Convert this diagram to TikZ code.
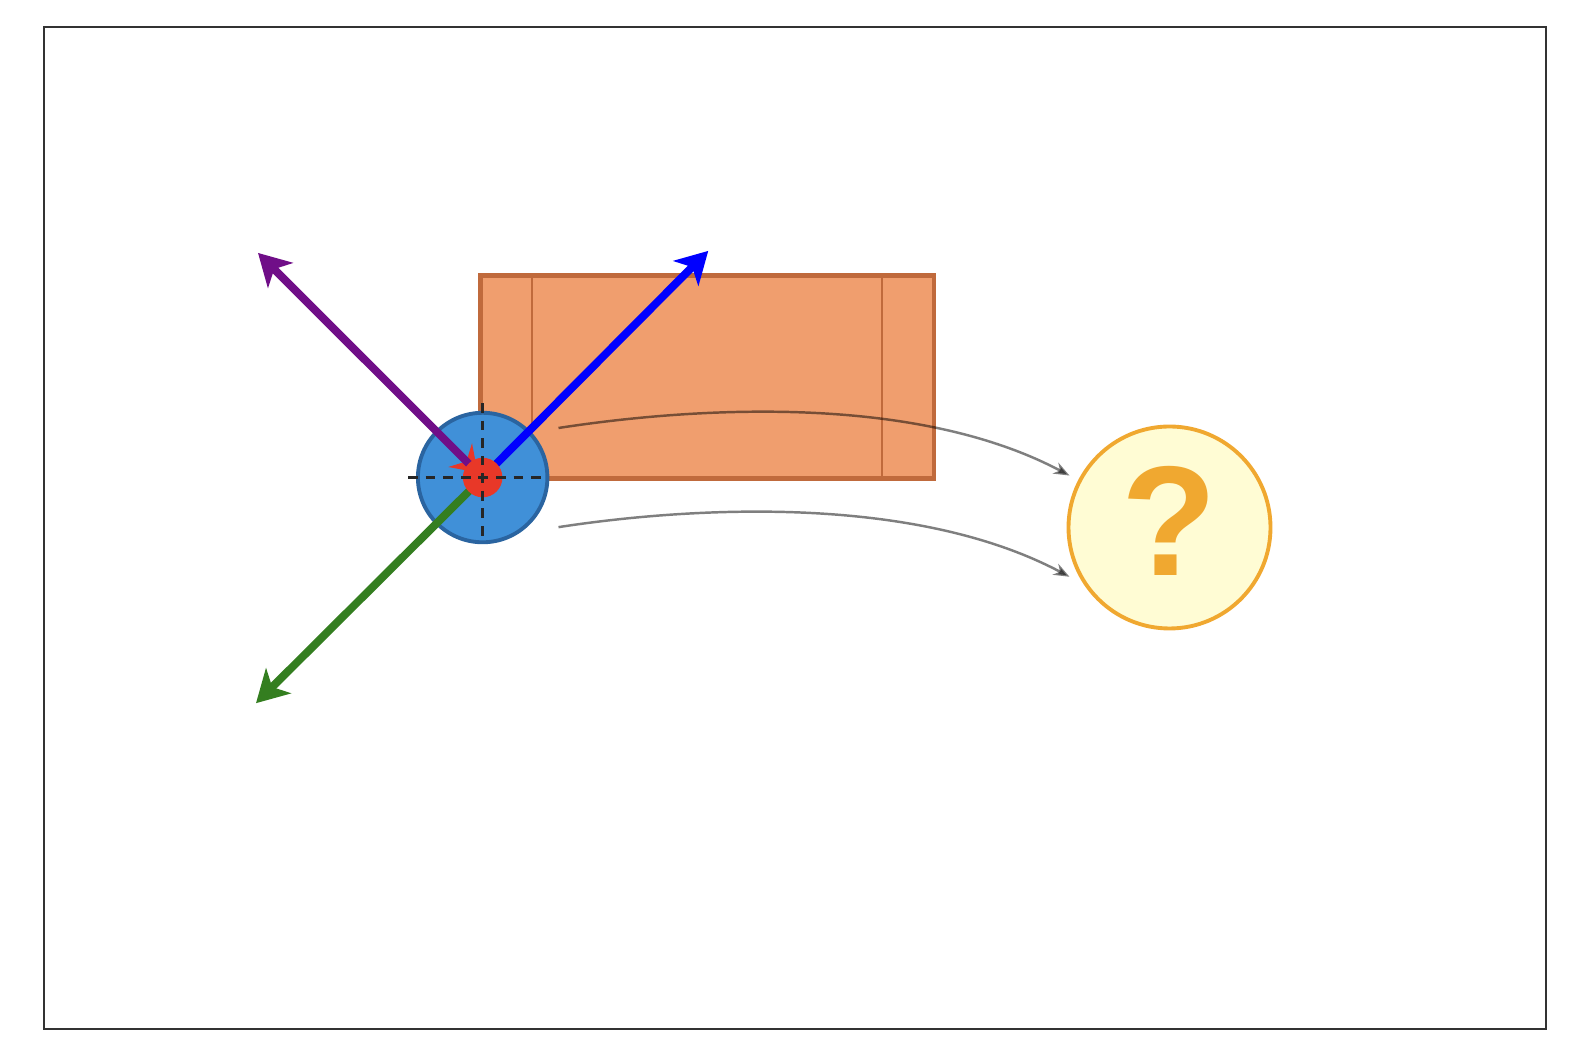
\documentclass[tikz,border=0pt]{standalone}
\usepackage{fontspec}
\setsansfont{Liberation Sans}
\usepackage{tikz}
\usetikzlibrary{arrows,arrows.meta}
\definecolor{bodyblue}{HTML}{4090D8}
\definecolor{bodyline}{HTML}{2A64A0}
\definecolor{dotred}{HTML}{E83828}
\definecolor{boxfill}{HTML}{F09E6E}
\definecolor{boxline}{HTML}{C06A3C}
\definecolor{qfill}{HTML}{FFFCD4}
\definecolor{qline}{HTML}{F0A830}
\definecolor{vpurple}{HTML}{700E88}
\definecolor{vgreen}{HTML}{347E20}
\tikzset{main node/.style={circle,draw,inner sep=0pt},
}

\begin{document}
\begin{tikzpicture}[-,>=stealth',auto,
		vec/.style={-{Stealth[length=18pt,width=20pt,inset=5pt]},line width=4.5pt},
		flow/.style={-{Stealth[length=9pt,width=7pt]},draw=black,opacity=0.5,line width=1.4pt},
		cross/.style={black!85,line width=1.9pt,dash pattern=on 5.5pt off 4.5pt},
		main node/.style={circle,draw,inner sep=0pt}]
		
		\useasboundingbox (0,0) rectangle (31.72,21.28);
		\draw[black!80,line width=1pt] (0.88,0.70) rectangle (30.92,20.74);
		
		% box and its sides
		\node[draw=boxline,fill=boxfill,line width=2.8pt,minimum width=9.07cm,minimum height=4.07cm,inner sep=0pt] (box) at (14.145,13.742) {};
		\draw[boxline,line width=1.3pt] (10.644,11.708) -- (10.644,15.776) (17.646,11.708) -- (17.646,15.776);
		
		% body and point
		\node[main node,draw=bodyline,fill=bodyblue,line width=2.2pt,minimum size=2.59cm] (body) at (9.653,11.729) {};
		
		\coordinate (up) at (5.16,16.221);
		\coordinate (ur) at (14.165,16.262);
		\coordinate (dl) at (5.12,7.216);
		\coordinate (rt) at (8.95,12.43);
		\coordinate (rh) at (9.553,11.829);
		
		\draw[-{Stealth[length=14pt,width=19pt,inset=5pt]},dotred,line width=1pt] (rt) -- (rh);
		\draw[vec,vpurple] (body.center) -- (up);
		\draw[vec,blue] (body.center) -- (ur);
		\draw[vec,vgreen] (body.center) -- (dl);
		
		\node[main node,draw=none,fill=dotred,minimum size=0.79cm] (pt) at (body.center) {};
		\draw[cross] ([xshift=-1.49cm]pt.center) -- ([xshift=1.25cm]pt.center);
		\draw[cross] ([yshift=1.49cm]pt.center) -- ([yshift=-1.25cm]pt.center);
		
		% unknown
		\node[main node,draw=qline,fill=qfill,line width=2.2pt,minimum size=4.04cm,font=\sffamily\bfseries\fontsize{89}{89}\selectfont,text=qline] (q) at (23.39,10.73) {\raisebox{8pt}{?}};
		
		\coordinate (a1) at (11.17,12.72);
		\coordinate (a2) at (11.17,10.737);
		\coordinate (b1) at (21.389,11.769);
		\coordinate (b2) at (21.389,9.745);
		\draw[flow] (a1) .. controls +(2.49,0.384) and +(-3.177,1.69) .. (b1);
		\draw[flow] (a2) .. controls +(2.49,0.384) and +(-3.177,1.69) .. (b2);
\end{tikzpicture}
\end{document}
